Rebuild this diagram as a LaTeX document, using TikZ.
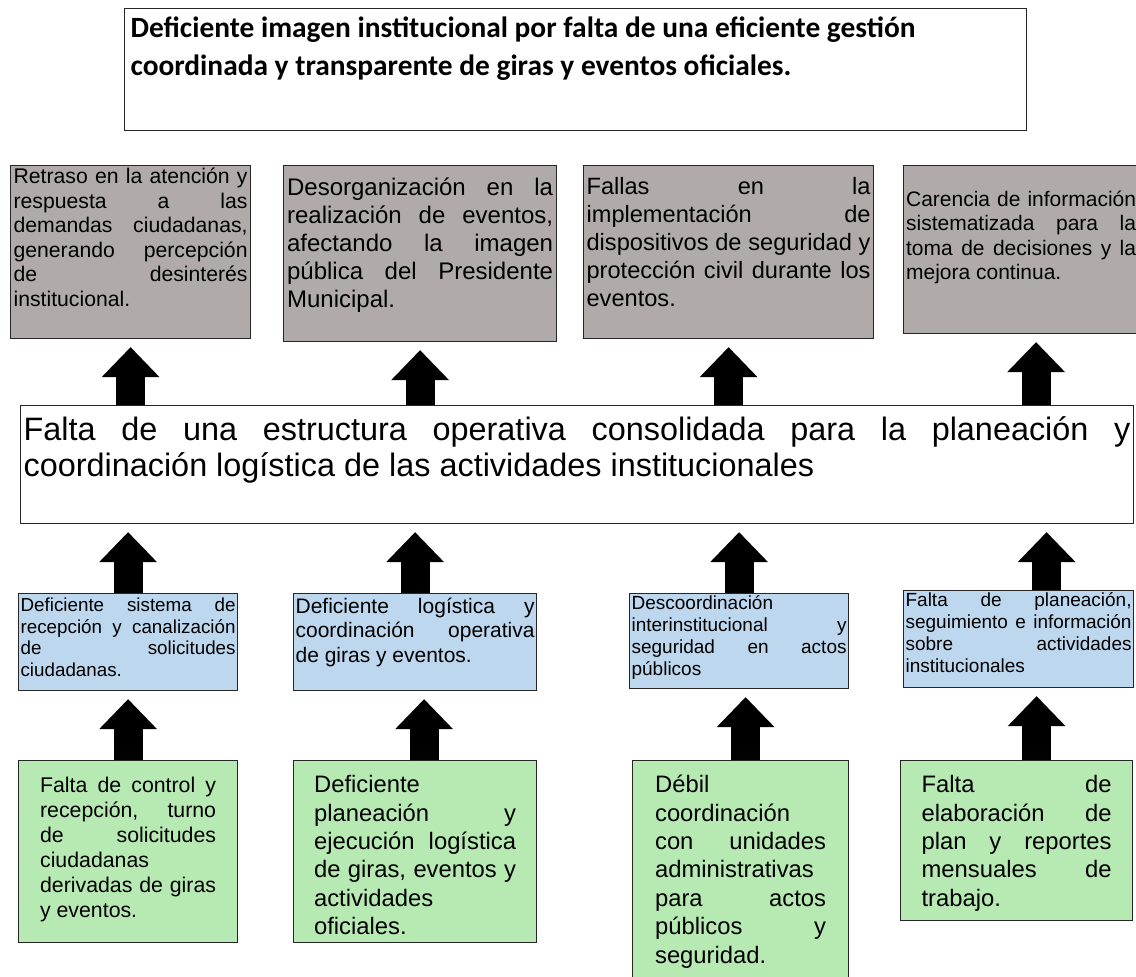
\documentclass[tikz,border=0pt]{standalone}
\usepackage{fontspec}
\setmainfont{Liberation Sans}
\newfontfamily\titulofont{Carlito}
\usetikzlibrary{arrows.meta}
\definecolor{grisefecto}{HTML}{B0AAAA}
\definecolor{azulcausa}{HTML}{BDD7EE}
\definecolor{verderaiz}{HTML}{B7EAB3}
\newcommand{\bloque}[2]{\parbox[t]{#1}{\hbadness=10000\tolerance=10000\hyphenpenalty=10000 #2}}

\begin{document}
\begin{tikzpicture}
    [
        x=1pt, y=-1pt,
        caja/.style={draw=black!85, line width=1.2pt, anchor=north west, inner sep=0pt},
        efecto/.style={caja, fill=grisefecto},
        causa/.style={caja, fill=azulcausa},
        raiz/.style={caja, fill=verderaiz},
        flecha/.style={line width=29pt, -{Triangle[width=58pt, length=30pt, line width=0pt]}, shorten >=8pt},
    ]
        \useasboundingbox (0,0) rectangle (1136,977);
        % efecto final
        \node[caja, minimum width=902pt, text height=29pt, text depth=93pt, font=\titulofont\bfseries\fontsize{29.4}{38}\selectfont] (titulo) at (124,8) {\bloque{890pt}{\raggedright Deficiente imagen institucional por falta de una eficiente gestión\\ coordinada y transparente de giras y eventos oficiales.}} ;
        % efectos
        \node[efecto, minimum width=240pt, text height=18pt, text depth=155pt, font=\fontsize{21.2}{24.5}\selectfont] (efecto1) at (10,165) {\bloque{234pt}{Retraso en la atención y\linebreak respuesta a las\linebreak demandas ciudadanas,\linebreak generando percepción\linebreak de desinterés\linebreak institucional.}} ;
        \node[efecto, minimum width=273pt, text height=30pt, text depth=146pt, font=\fontsize{24}{28}\selectfont] (efecto2) at (283,165) {\bloque{266pt}{Desorganización en la\linebreak realización de eventos,\linebreak afectando la imagen\linebreak pública del Presidente\linebreak Municipal.}} ;
        \node[efecto, minimum width=290pt, text height=29pt, text depth=144pt, font=\fontsize{23.6}{28}\selectfont] (efecto3) at (583,165) {\bloque{284pt}{Fallas en la\linebreak implementación de\linebreak dispositivos de seguridad y\linebreak protección civil durante los\linebreak eventos.}} ;
        \node[efecto, minimum width=235pt, text height=41pt, text depth=127pt, font=\fontsize{21}{24.3}\selectfont] (efecto4) at (903,165) {\bloque{230pt}{Carencia de información\linebreak sistematizada para la\linebreak toma de decisiones y la\linebreak mejora continua.}} ;
        % problema central
        \node[caja, minimum width=1113pt, text height=35pt, text depth=83pt, font=\fontsize{32.4}{36}\selectfont] (problema) at (20,405) {\bloque{1107pt}{Falta de una estructura operativa consolidada para la planeación y\linebreak coordinación logística de las actividades institucionales}} ;
        % causas
        \node[causa, minimum width=219pt, text height=18pt, text depth=79pt, font=\fontsize{18.8}{21.6}\selectfont] (causa1) at (18,593) {\bloque{215pt}{Deficiente sistema de\linebreak recepción y canalización\linebreak de solicitudes\linebreak ciudadanas.}} ;
        \node[causa, minimum width=243pt, text height=20pt, text depth=77pt, font=\fontsize{21}{24.2}\selectfont] (causa2) at (293,593) {\bloque{239pt}{Deficiente logística y\linebreak coordinación operativa\linebreak de giras y eventos.}} ;
        \node[causa, minimum width=219pt, text height=16pt, text depth=79pt, font=\fontsize{19}{21.8}\selectfont] (causa3) at (629,593) {\bloque{215pt}{Descoordinación\linebreak interinstitucional y\linebreak seguridad en actos\linebreak públicos}} ;
        \node[causa, minimum width=230pt, text height=16pt, text depth=81pt, font=\fontsize{19}{21.8}\selectfont] (causa4) at (903,590) {\bloque{226pt}{Falta de planeación,\linebreak seguimiento e información\linebreak sobre actividades\linebreak institucionales}} ;
        % causas raiz
        \node[raiz, minimum width=219pt, text height=32pt, text depth=150pt, font=\fontsize{21.3}{25}\selectfont] (raiz1) at (18,760) {\bloque{176pt}{Falta de control y\linebreak recepción, turno\linebreak de solicitudes\linebreak ciudadanas\linebreak derivadas de giras\linebreak y eventos.}} ;
        \node[raiz, minimum width=243pt, text height=32pt, text depth=150pt, font=\fontsize{23.8}{28.4}\selectfont] (raiz2) at (293,760) {\bloque{202pt}{Deficiente\linebreak planeación y\linebreak ejecución logística\linebreak de giras, eventos y\linebreak actividades\linebreak oficiales.}} ;
        \node[raiz, minimum width=216pt, text height=32pt, text depth=198pt, font=\fontsize{23.8}{28.4}\selectfont] (raiz3) at (632,760) {\bloque{171pt}{Débil\linebreak coordinación\linebreak con unidades\linebreak administrativas\linebreak para actos\linebreak públicos y\linebreak seguridad.}} ;
        \node[raiz, minimum width=232pt, text height=32pt, text depth=128pt, font=\fontsize{23.8}{28.4}\selectfont] (raiz4) at (900,760) {\bloque{190pt}{Falta de\linebreak elaboración de\linebreak plan y reportes\linebreak mensuales de\linebreak trabajo.}} ;
        % flechas
        \draw[flecha] (efecto1.south |- problema.north) -- (efecto1.south) ;
        \draw[flecha] (efecto2.south |- problema.north) -- (efecto2.south) ;
        \draw[flecha] (efecto3.south |- problema.north) -- (efecto3.south) ;
        \draw[flecha] ([xshift=15pt]efecto4.south |- problema.north) -- ([xshift=15pt]efecto4.south) ;
        \draw[flecha] (causa1.north) -- (causa1.north |- problema.south) ;
        \draw[flecha] (causa2.north) -- (causa2.north |- problema.south) ;
        \draw[flecha] (causa3.north) -- (causa3.north |- problema.south) ;
        \draw[flecha] ([xshift=28pt]causa4.north) -- ([xshift=28pt]causa4.north |- problema.south) ;
        \draw[flecha] (raiz1.north) -- (raiz1.north |- causa1.south) ;
        \draw[flecha] ([xshift=9pt]raiz2.north) -- ([xshift=9pt]raiz2.north |- causa2.south) ;
        \draw[flecha] ([xshift=5pt]raiz3.north) -- ([xshift=5pt]raiz3.north |- causa3.south) ;
        \draw[flecha] ([xshift=20pt]raiz4.north) -- ([xshift=20pt]raiz4.north |- causa4.south) ;
    \end{tikzpicture}
\end{document}
